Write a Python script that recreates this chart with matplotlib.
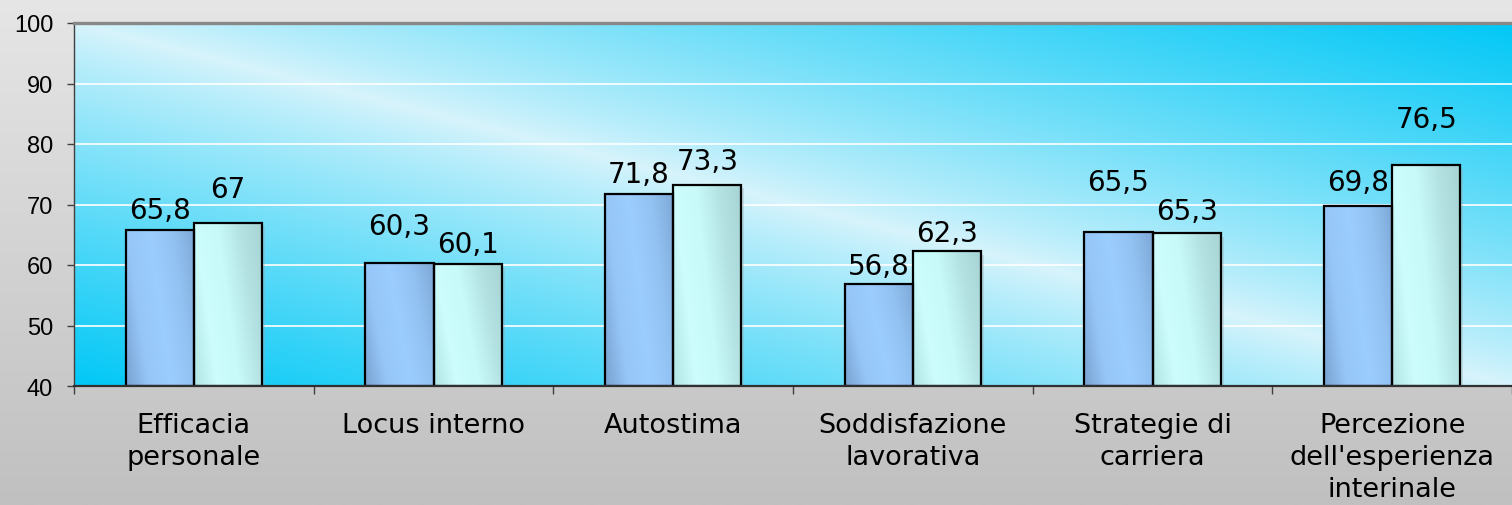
import numpy as np
import matplotlib
matplotlib.use("Agg")
import matplotlib.pyplot as plt
from matplotlib.colors import to_rgb, LinearSegmentedColormap
from matplotlib.patches import Rectangle

categories = ["Efficacia\npersonale", "Locus interno", "Autostima",
              "Soddisfazione\nlavorativa", "Strategie di\ncarriera",
              "Percezione\ndell'esperienza\ninterinale"]
series_a = [65.8, 60.3, 71.8, 56.8, 65.5, 69.8]
series_b = [67.0, 60.1, 73.3, 62.3, 65.3, 76.5]
labels_a = ["65,8", "60,3", "71,8", "56,8", "65,5", "69,8"]
labels_b = ["67", "60,1", "73,3", "62,3", "65,3", "76,5"]
yticks = [40, 50, 60, 70, 80, 90, 100]

# label vertical offsets (points) above bar tops
off_a = [14, 27, 14, 13, 36, 17]
off_b = [24, 15, 17, 13, 16, 33]

W, H = 1512, 506
fig = plt.figure(figsize=(W / 100, H / 100), dpi=100)

# figure background gradient
bg = fig.add_axes([0, 0, 1, 1], zorder=-10)
bg.axis("off")
g = np.linspace(0, 1, 256)[:, None]
top = np.array(to_rgb("#e6e6e6"))
bot = np.array(to_rgb("#c0c0c0"))
img = top[None, None, :] * (1 - g[..., None]) + bot[None, None, :] * g[..., None]
bg.imshow(img, aspect="auto", extent=(0, 1, 0, 1))
bg.set_xlim(0, 1); bg.set_ylim(0, 1)

left, right = 74 / W, 1.0
top_y, bot_y = 1 - 24 / H, 1 - 387 / H
ax = fig.add_axes([left, bot_y, right - left, top_y - bot_y])
ax.patch.set_alpha(0)

n = len(categories)
ax.set_xlim(-0.5, n - 0.5)
ax.set_ylim(40, 100)

# plot area gradient
nu, nv = 400, 200
u = np.linspace(0, 1, nu)[None, :]
v = np.linspace(0, 1, nv)[:, None]  # top to bottom
t = (u + (1 - v)) / 2
f = 1 - np.abs(2 * t - 1) ** 0.85
f = np.clip(f, 0, 1)
cy = np.array(to_rgb("#02c8f6"))
lt = np.array(to_rgb("#d8f4fc"))
pa = cy[None, None, :] * (1 - f[..., None]) + lt[None, None, :] * f[..., None]
ax.imshow(pa, aspect="auto", extent=(-0.5, n - 0.5, 40, 100), zorder=0)

# grid
for yv in yticks[1:-1]:
    ax.axhline(yv, color="white", lw=1.2, zorder=1)

bw = 0.285
x = np.arange(n)

def grad_bar(xc, h, stops):
    x0, x1 = xc - bw / 2, xc + bw / 2
    ax.add_patch(Rectangle((x0 + 0.012, 40), bw, h - 40 - 0.6,
                           facecolor="#9aa8b0", alpha=0.35, lw=0, zorder=1.5))
    cmap = LinearSegmentedColormap.from_list("b", stops)
    xs = np.linspace(0, 1, 100)[None, :]
    ys = np.linspace(0, 1, 100)[:, None]
    val = np.clip(0.75 * xs + 0.25 * (1 - ys), 0, 1)
    ax.imshow(val, cmap=cmap, aspect="auto", extent=(x0, x1, 40, h),
              zorder=2, vmin=0, vmax=1, interpolation="bilinear")
    ax.add_patch(Rectangle((x0, 40), bw, h - 40, facecolor="none",
                           edgecolor="black", lw=1.6, zorder=3))

stops_a = ["#78a2d0", "#96c6f8", "#9ccdff", "#92c2f2", "#7ea8d6"]
stops_b = ["#b2e4e4", "#cdfdfd", "#c8fafa", "#b4e2e2", "#a6d2d2"]

for i in range(n):
    xa = x[i] - bw / 2
    xb = x[i] + bw / 2
    grad_bar(xa, series_a[i], stops_a)
    grad_bar(xb, series_b[i], stops_b)
    ax.annotate(labels_a[i], (xa, series_a[i]), xytext=(0, off_a[i]),
                textcoords="offset points", ha="center", va="center",
                fontsize=20, family="DejaVu Sans", zorder=5)
    ax.annotate(labels_b[i], (xb, series_b[i]), xytext=(0, off_b[i]),
                textcoords="offset points", ha="center", va="center",
                fontsize=20, family="DejaVu Sans", zorder=5)

# axes styling
ax.spines["right"].set_visible(False)
ax.spines["top"].set_color("#888888")
ax.spines["top"].set_linewidth(2.4)
ax.spines["left"].set_color("#404040")
ax.spines["left"].set_linewidth(1.0)
ax.spines["bottom"].set_color("#303030")
ax.spines["bottom"].set_linewidth(1.6)
for s in ax.spines.values():
    s.set_zorder(6)

ax.set_yticks(yticks)
ax.set_yticklabels([str(y) for y in yticks], family="Liberation Sans", fontsize=17)
ax.tick_params(axis="y", length=5, width=1, color="#404040", pad=10, direction="out")

ax.set_xticks(x)
ax.set_xticklabels(categories, family="DejaVu Sans", fontsize=19.5, linespacing=1.3)
ax.tick_params(axis="x", which="major", length=0, pad=19)
ax.set_xticks(np.arange(-0.5, n, 1.0), minor=True)
ax.tick_params(axis="x", which="minor", length=6, width=1, color="#404040", direction="out")

fig.savefig("out.png", dpi=100)
